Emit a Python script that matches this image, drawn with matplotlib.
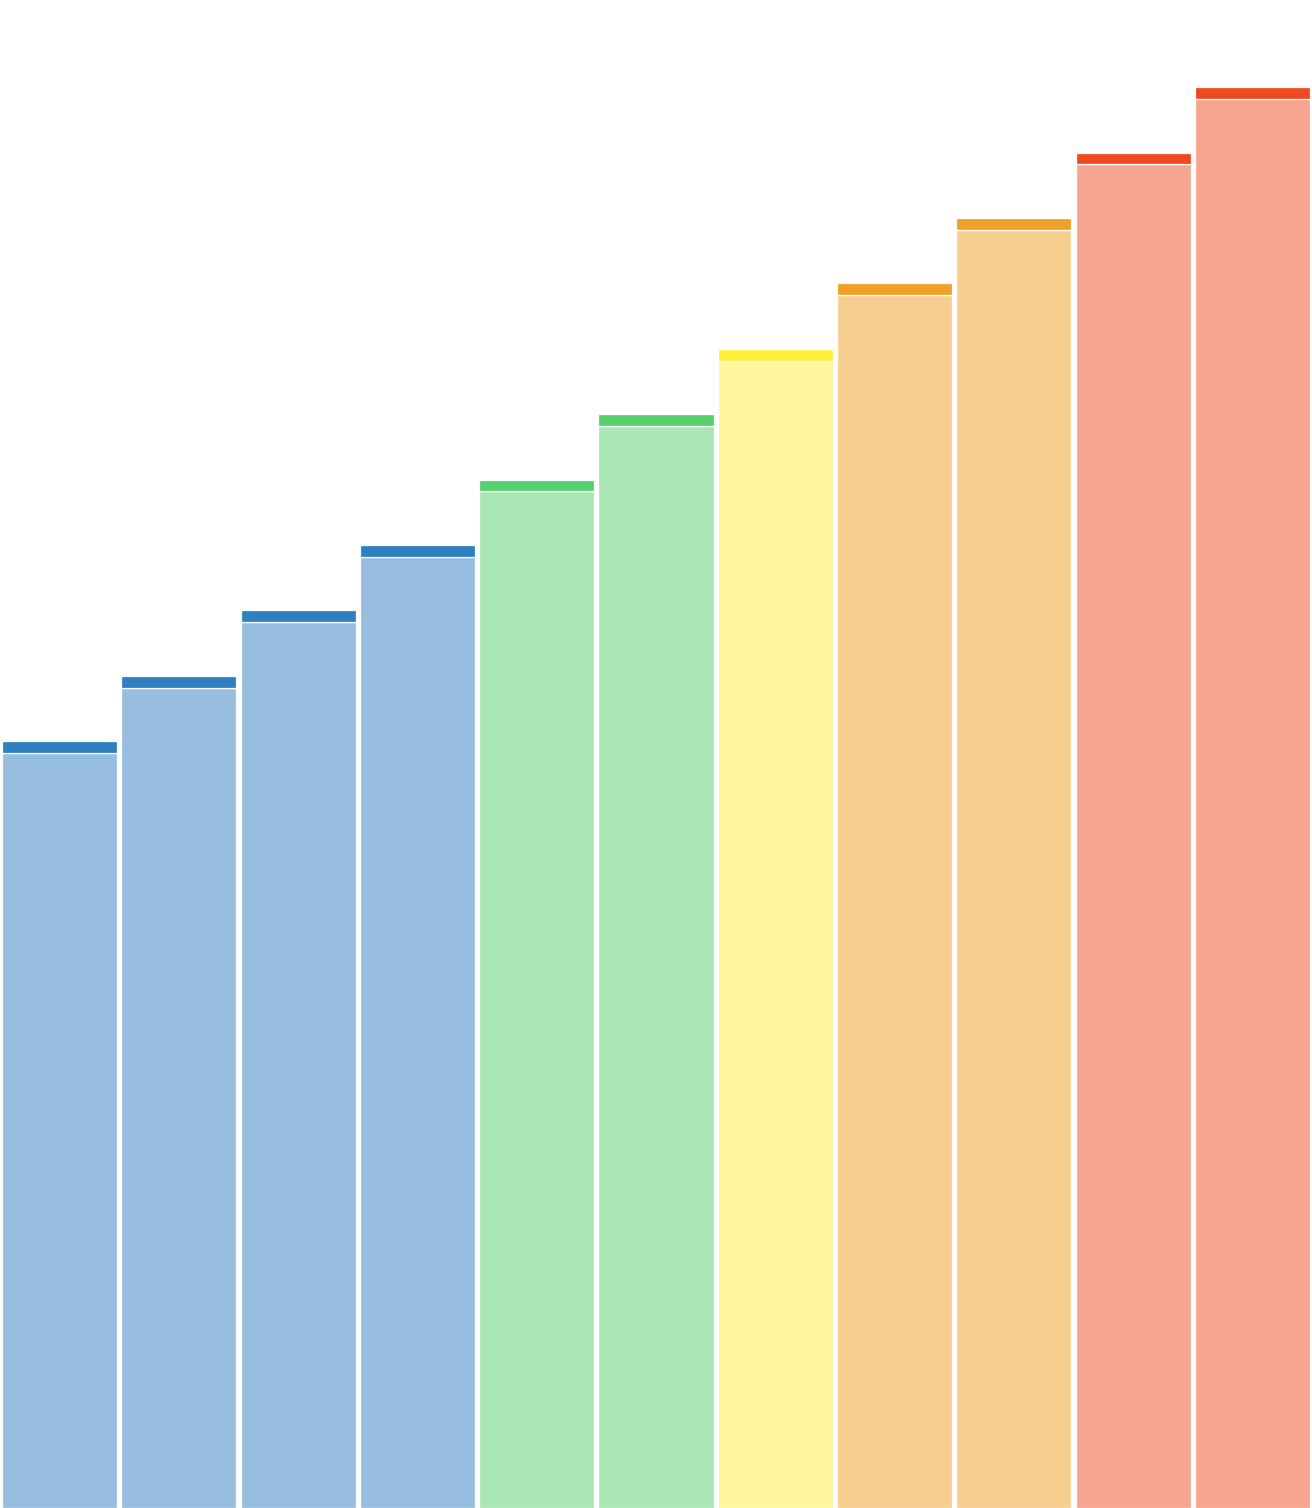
import matplotlib
matplotlib.use("Agg")
import matplotlib.pyplot as plt

categories = ["1", "2", "3", "4", "5", "6", "7", "8", "9", "10", "11"]
base_values = [11.545, 12.545, 13.545, 14.545, 15.545, 16.545, 17.545, 18.545, 19.545, 20.545, 21.545]
cap_values = [0.18, 0.18, 0.18, 0.18, 0.18, 0.18, 0.18, 0.18, 0.18, 0.18, 0.18]
light_colors = ["#98BEDF", "#98BEDF", "#98BEDF", "#98BEDF", "#AAE7B4", "#AAE7B4",
                "#FEF79D", "#F6CF90", "#F6CF90", "#F7A590", "#F7A590"]
dark_colors = ["#2E80C0", "#2E80C0", "#2E80C0", "#2E80C0", "#55D06D", "#55D06D",
               "#FFEF3C", "#F0A125", "#F0A125", "#F04922", "#F04922"]

fig = plt.figure(figsize=(13.12, 15.08), dpi=100)
ax = fig.add_axes([0, 0, 1, 1])
x = list(range(len(categories)))
ax.bar(x, base_values, width=0.965, color=light_colors, edgecolor="white", linewidth=0.9)
ax.bar(x, cap_values, bottom=base_values, width=0.965, color=dark_colors,
       edgecolor="white", linewidth=0.9)
ax.set_xlim(-0.5, len(categories) - 0.5)
ax.set_ylim(0, 23.06)
ax.axis("off")
fig.savefig("out.png", dpi=100, facecolor="white")
